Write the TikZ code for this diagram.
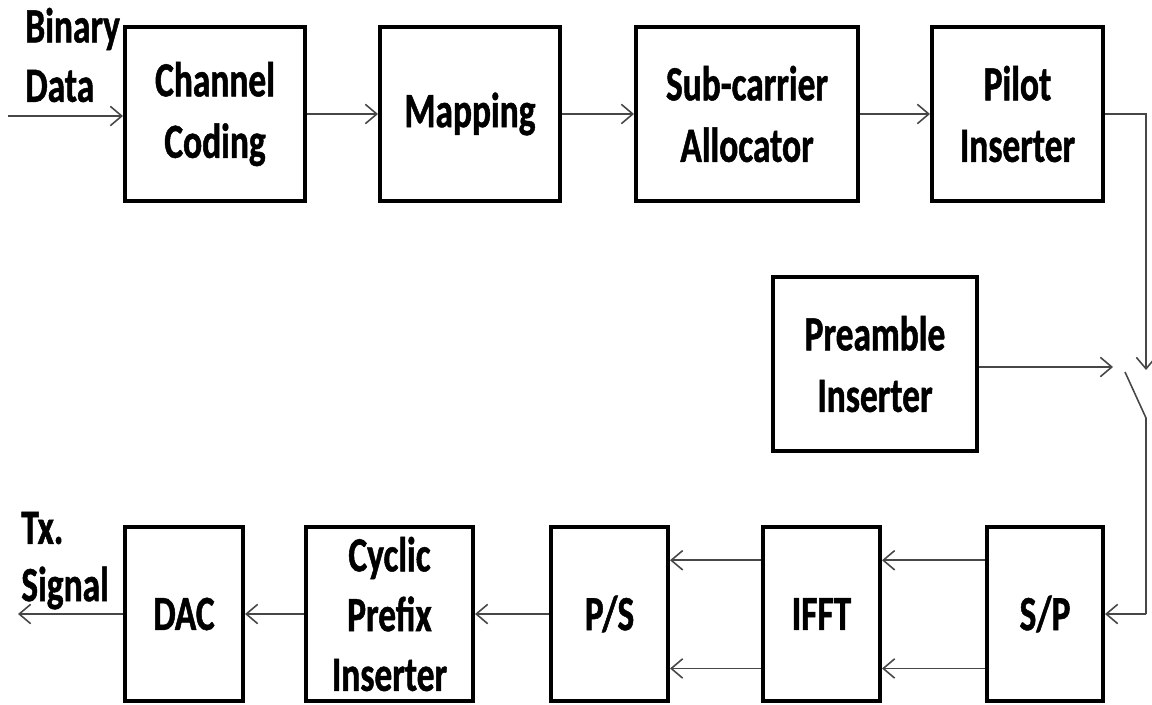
\documentclass[tikz,border=0pt]{standalone}
\usepackage{fontspec}
\setmainfont{Carlito}[FakeStretch=0.72,BoldFeatures={FakeBold=1.0}]
\usetikzlibrary{arrows.meta}
\begin{document}
\begin{tikzpicture}[x=0.02cm,y=-0.02cm,
  blk/.style={draw=black,line width=2.3pt,minimum height=3.48cm,inner sep=0pt,
    align=center,font=\bfseries\fontsize{28}{35}\selectfont},
  lbl/.style={anchor=west,inner sep=0pt,font=\bfseries\fontsize{28}{34}\selectfont},
  conn/.style={draw=black!72,line width=0.9pt},
  arr/.style={conn,-{Straight Barb[length=6.5pt,width=11pt,line width=0.9pt]}}]
\useasboundingbox[fill=white] (0,0) rectangle (1152,704);
% top row
\node[blk,minimum width=3.6cm]  (cc)  at (215,114)    {Channel\\Coding};
\node[blk,minimum width=3.6cm]  (map) at (470,114)    {Mapping};
\node[blk,minimum width=4.44cm] (sca) at (747,114)    {Sub-carrier\\Allocator};
\node[blk,minimum width=3.42cm] (pil) at (1017.5,114) {Pilot\\Inserter};
% middle
\node[blk,minimum width=4.08cm] (pre) at (875,364)    {Preamble\\Inserter};
% bottom row
\node[blk,minimum width=2.36cm] (dac)  at (184,614)   {DAC};
\node[blk,minimum width=3.34cm,font=\bfseries\fontsize{28}{34}\selectfont] (cyc)  at (389.5,614) {Cyclic\\Pre{}fix\\Inserter};
\node[blk,minimum width=2.34cm] (ps)   at (609.5,614) {P/S};
\node[blk,minimum width=2.34cm] (ifft) at (821.5,614) {IFFT};
\node[blk,minimum width=2.32cm] (sp)   at (1045,614)  {S/P};
% labels
\node[lbl] (bin) at (25,29)  {Binary};
\node[lbl] (dat) at (25,86)  {Data};
\node[lbl] (tx)  at (21,528) {Tx.};
\node[lbl] (sig) at (21,588) {Signal};
% coordinates
\coordinate (in)     at (8,116);
\coordinate (out)    at (18,614);
\coordinate (pcorn)  at (1146,114);
\coordinate (swtop)  at (1146,370);
\coordinate (swin)   at (1113,367);
\coordinate (bladeA) at (1125,372);
\coordinate (bladeB) at (1146,418);
\coordinate (scorn)  at (1146,614);
% connectors
\draw[arr] (in) -- (cc.west |- in);
\draw[arr] (cc) -- (map);
\draw[arr] (map) -- (sca);
\draw[arr] (sca) -- (pil);
\draw[arr] (pil.east) -- (pcorn) -- (swtop);
\draw[arr] (pre.east |- swin) -- (swin);
\draw[conn] (bladeA) -- (bladeB) -- (scorn);
\draw[arr] (scorn) -- (sp.east);
\draw[arr] ([yshift=30.6pt]sp.west) -- ([yshift=30.6pt]ifft.east);
\draw[arr] ([yshift=-31pt]sp.west) -- ([yshift=-31pt]ifft.east);
\draw[arr] ([yshift=30.6pt]ifft.west) -- ([yshift=30.6pt]ps.east);
\draw[arr] ([yshift=-31pt]ifft.west) -- ([yshift=-31pt]ps.east);
\draw[arr] (ps) -- (cyc);
\draw[arr] (cyc) -- (dac);
\draw[arr] (dac) -- (out);
\end{tikzpicture}
\end{document}
